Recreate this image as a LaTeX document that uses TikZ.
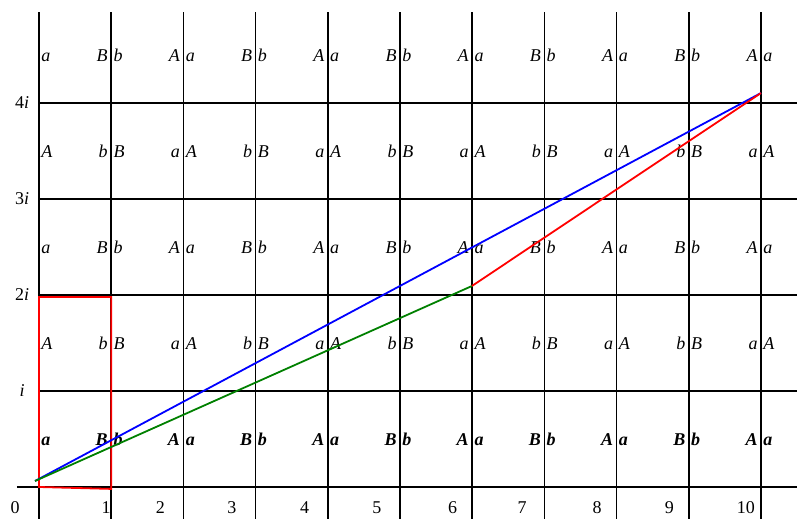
\documentclass[tikz,border=0pt]{standalone}
\usepackage{fontspec}
\setmainfont{Liberation Serif}
\begin{document}
\begin{tikzpicture}[x=72.2pt,y=96pt,
  grid/.style={line width=1.7pt},
  path/.style={line width=1.8pt},
  lab/.style={font=\fontsize{18}{21}\selectfont\itshape, inner sep=0pt},
  blab/.style={font=\fontsize{18}{21}\selectfont\bfseries\itshape, inner sep=0pt},
  ax/.style={font=\fontsize{18}{21}\selectfont, inner sep=0pt}]
\useasboundingbox (-0.540,-0.323) rectangle (10.499,5.073);
% grid
\foreach \k in {0,...,10} \draw[grid] (\k,-0.33) -- (\k,4.95);
\draw[grid] (-0.305,0) -- (10.5,0);
\foreach \j in {1,...,4} \draw[grid] (0,\j) -- (10.5,\j);
% axis labels
\foreach \k/\p in {0/-0.33,1/0.93,2/1.68,3/2.67,4/3.68,5/4.68,6/5.73,7/6.69,8/7.73,9/8.73,10/9.79}
  \node[ax,anchor=base] (x\k) at (\p,-0.28) {\k};
\node[ax,anchor=base] (y1) at (-0.235,0.94) {\textit{i}};
\node[ax,anchor=base] (y2) at (-0.235,1.94) {2\textit{i}};
\node[ax,anchor=base] (y3) at (-0.235,2.94) {3\textit{i}};
\node[ax,anchor=base] (y4) at (-0.235,3.94) {4\textit{i}};
% cell labels, rows of type a/B
\foreach \row/\st in {0/blab,2/lab,4/lab}{
  \foreach \k/\l/\r in {0/a/B,1/b/A,2/a/B,3/b/A,4/a/B,5/b/A,6/a/B,7/b/A,8/a/B,9/b/A}{
    \node[\st,anchor=base west] (l\row-\k) at (\k+0.03,\row+0.43) {\l};
    \node[\st,anchor=base east] (r\row-\k) at (\k+0.955,\row+0.43) {\r};
  }
  \node[\st,anchor=base west] (l\row-10) at (10.03,\row+0.43) {a};
}
% rows of type A/b
\foreach \row in {1,3}{
  \foreach \k/\l/\r in {0/A/b,1/B/a,2/A/b,3/B/a,4/A/b,5/B/a,6/A/b,7/B/a,8/A/b,9/B/a}{
    \node[lab,anchor=base west] (l\row-\k) at (\k+0.03,\row+0.43) {\l};
    \node[lab,anchor=base east] (r\row-\k) at (\k+0.955,\row+0.43) {\r};
  }
  \node[lab,anchor=base west] (l\row-10) at (10.03,\row+0.43) {A};
}
% paths
\coordinate (S) at (-0.055,0.0625);
\coordinate (M) at (5.997,2.094);
\coordinate (E) at (10.0,4.104);
\draw[path,red] (0,0) -- (1,-0.02) -- (1,1.98) -- (0,1.98) -- cycle;
\draw[path,blue] (S) -- (E);
\draw[path,green!50!black] (S) -- (M);
\draw[path,red] (M) -- (E);
\end{tikzpicture}
\end{document}
